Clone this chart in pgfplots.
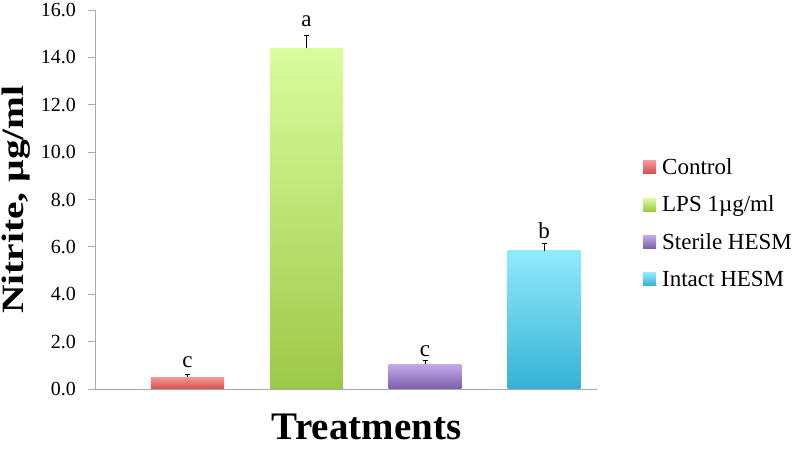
\documentclass[border=0pt]{standalone}
\usepackage{fontspec}
\setmainfont{Liberation Serif}
\usepackage{pgfplots}
\pgfplotsset{compat=1.18}
\definecolor{axgray}{RGB}{170,170,170}
\definecolor{cTop}{RGB}{246,152,152}
\definecolor{cBot}{RGB}{214,78,78}
\definecolor{lTop}{RGB}{218,252,158}
\definecolor{lBot}{RGB}{158,200,72}
\definecolor{sTop}{RGB}{194,170,232}
\definecolor{sBot}{RGB}{124,94,168}
\definecolor{iTop}{RGB}{146,234,252}
\definecolor{iBot}{RGB}{52,178,214}
\begin{document}
\begin{tikzpicture}
\useasboundingbox (-95bp,-61bp) rectangle (703bp,389bp);
\begin{axis}[
  scale only axis,
  width=502bp, height=379bp,
  xmin=95, xmax=597, ymin=0, ymax=16,
  ybar, bar shift=0pt, bar width=73,
  axis x line=bottom, axis y line=left,
  axis line style={axgray, line width=0.9bp, -},
  xtick=\empty,
  ytick={0,2,...,16},
  tick align=outside, tick pos=left,
  major tick length=6.5bp,
  ytick style={axgray, line width=0.9bp},
  yticklabel style={font=\fontsize{20bp}{22bp}\selectfont, xshift=-9bp},
  /pgf/number format/.cd, fixed, fixed zerofill, precision=1, assume math mode=true,
  /pgfplots/.cd,
  every axis y label/.style={at={(axis description cs:-0.1434,0.5)}, anchor=base, rotate=90},
  ylabel={\scalebox{1.27}[1]{\fontsize{31bp}{34bp}\selectfont\bfseries Nitrite, µg/ml}},
  every axis x label/.style={at={(axis description cs:0.541,-0.1345)}, anchor=base, inner sep=0pt},
  xlabel={\fontsize{39bp}{42bp}\selectfont\bfseries Treatments},
  legend style={draw=none, fill=none, at={(axis description cs:1.0916,0.614)}, anchor=north west,
    inner sep=0pt, row sep=16bp, font=\fontsize{23bp}{25bp}\selectfont,
    /tikz/every odd column/.style={column sep=4bp}},
  legend image code/.code={\path[#1, draw=none] (0bp,-6.5bp) rectangle (13bp,6.5bp);},
  legend cell align=left,
  error bars/y dir=plus, error bars/y explicit,
  error bars/error bar style={black, line width=0.8bp},
  error bars/error mark options={rotate=90, mark size=2.5bp, black, line width=0.8bp},
]
\addplot[draw=none, top color=cTop, bottom color=cBot] coordinates {(187.5,0.50) +- (0,0.10)};
\addlegendentry{Control}
\addplot[draw=none, top color=lTop, bottom color=lBot] coordinates {(306.5,14.38) +- (0,0.56)};
\addlegendentry{LPS 1µg/ml}
\addplot[draw=none, top color=sTop, bottom color=sBot] coordinates {(425,1.05) +- (0,0.14)};
\addlegendentry{Sterile HESM}
\addplot[draw=none, top color=iTop, bottom color=iBot] coordinates {(544,5.83) +- (0,0.32)};
\addlegendentry{Intact HESM}
\node[anchor=base, font=\fontsize{23bp}{24bp}\selectfont] at (axis cs:187.5,0.91) {c};
\node[anchor=base, font=\fontsize{23bp}{24bp}\selectfont] at (axis cs:306.5,15.29) {a};
\node[anchor=base, font=\fontsize{23bp}{24bp}\selectfont] at (axis cs:425,1.36) {c};
\node[anchor=base, font=\fontsize{23bp}{24bp}\selectfont] at (axis cs:544,6.36) {b};
\draw[axgray, line width=0.9bp] (rel axis cs:0,0) -- ++(0,-12bp);
\draw[axgray, line width=0.9bp] (rel axis cs:1,0) -- ++(0,-12bp);
\end{axis}
\end{tikzpicture}
\end{document}
